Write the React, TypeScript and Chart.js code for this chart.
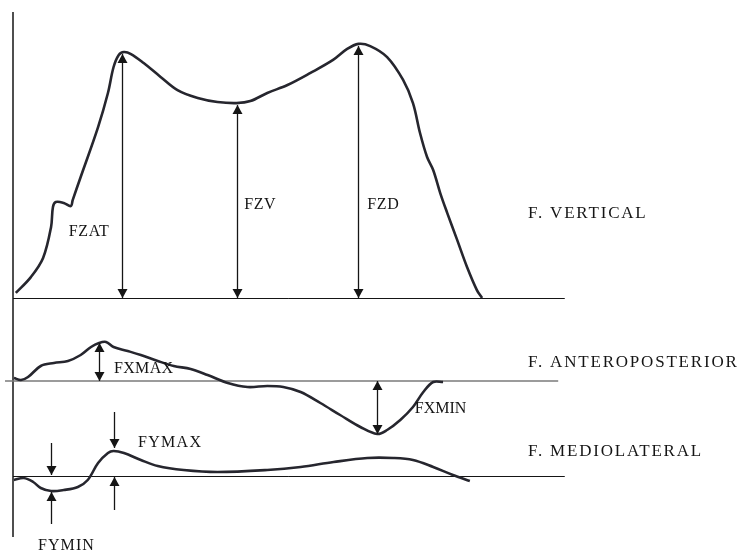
import React, { useEffect, useRef } from "react";
import { Chart, registerables } from "chart.js";

Chart.register(...registerables);

// Stance phase, % of contact time
const vertTime = [0.6, 3.8, 6.4, 8.1, 8.5, 9.1, 10.8, 12.3, 12.7, 14.4, 18.1, 20.2, 21.4, 22.5, 23.6, 25.1, 27.8, 31.4, 35.0, 39.3, 43.5, 47.6, 50.5, 54.1, 58.4, 63.3, 68.1, 71.1, 73.5, 76.0, 79.6, 83.0, 85.1, 86.6, 88.1, 89.4, 90.9, 92.4, 94.5, 96.6, 98.7, 99.8];
// Vertical ground reaction force (BW)
const vertForce = [0.023, 0.095, 0.182, 0.323, 0.414, 0.436, 0.432, 0.418, 0.445, 0.55, 0.777, 0.932, 1.05, 1.105, 1.118, 1.109, 1.068, 1.005, 0.945, 0.909, 0.891, 0.886, 0.895, 0.932, 0.968, 1.023, 1.082, 1.132, 1.155, 1.145, 1.095, 0.991, 0.886, 0.75, 0.641, 0.582, 0.477, 0.386, 0.264, 0.141, 0.036, 0.0];

const apTime = [0.2, 1.7, 3.2, 5.9, 8.7, 11.7, 14.4, 16.6, 18.3, 19.8, 21.4, 24.4, 27.2, 30.8, 34.2, 37.8, 41.4, 45.7, 49.9, 54.1, 57.5, 61.2, 65.4, 69.6, 73.9, 77.5, 79.6, 82.4, 85.1, 87.3, 89.4, 91.5];
// Anteroposterior force (BW)
const apForce = [0.015, 0.005, 0.02, 0.075, 0.09, 0.1, 0.13, 0.17, 0.19, 0.195, 0.17, 0.15, 0.13, 0.1, 0.075, 0.06, 0.03, -0.01, -0.03, -0.025, -0.03, -0.055, -0.11, -0.17, -0.23, -0.265, -0.245, -0.195, -0.13, -0.055, -0.005, -0.005];

const mlTime = [0.2, 2.3, 4.3, 5.9, 8.1, 10.8, 13.8, 15.9, 18.1, 20.2, 21.4, 23.6, 27.2, 30.8, 36.3, 43.5, 54.1, 61.2, 68.2, 75.4, 80.9, 85.1, 89.4, 93.6, 97.2];
// Mediolateral force (BW)
const mlForce = [-0.02, -0.01, -0.03, -0.06, -0.075, -0.07, -0.055, -0.02, 0.065, 0.115, 0.125, 0.115, 0.08, 0.05, 0.03, 0.02, 0.03, 0.045, 0.07, 0.09, 0.09, 0.08, 0.045, 0.005, -0.025];

// Key parameters: [time, value]
const FZAT = [23.1, 1.118];
const FZV = [47.6, 0.886];
const FZD = [73.5, 1.155];
const FXMAX = [18.3, 0.19];
const FXMIN = [77.5, -0.265];
const FYMIN = [8.1, -0.075];
const FYMAX = [21.4, 0.125];

const curveLabels = ["F. VERTICAL", "F. ANTEROPOSTERIOR", "F. MEDIOLATERAL"];

const W = 744;
const H = 554;

const toPoints = (xs: number[], ys: number[]) => xs.map((x, i) => ({ x, y: ys[i] }));

// Scale bounds so that a baseline sits at a given pixel row
const bounds = (basePx: number, pxPerUnit: number) => ({
  min: -(H - basePx) / pxPerUnit,
  max: basePx / pxPerUnit,
});

const INK = "#151515";
const FONT = '"Liberation Serif", "DejaVu Serif", serif';

function arrow(ctx: CanvasRenderingContext2D, x: number, yFrom: number, yTo: number, headFrom: boolean, headTo: boolean) {
  const hw = 5;
  const hl = 9;
  ctx.save();
  ctx.strokeStyle = INK;
  ctx.fillStyle = INK;
  ctx.lineWidth = 1.3;
  ctx.beginPath();
  ctx.moveTo(x, yFrom);
  ctx.lineTo(x, yTo);
  ctx.stroke();
  const head = (tip: number, other: number) => {
    const d = other > tip ? 1 : -1;
    ctx.beginPath();
    ctx.moveTo(x, tip);
    ctx.lineTo(x - hw, tip + d * hl);
    ctx.lineTo(x + hw, tip + d * hl);
    ctx.closePath();
    ctx.fill();
  };
  if (headFrom) head(yFrom, yTo);
  if (headTo) head(yTo, yFrom);
  ctx.restore();
}

const diagramPlugin = {
  id: "gaitDiagram",
  beforeDatasetsDraw(chart: any) {
    const { ctx } = chart;
    const sx = chart.scales.x;
    const yV = chart.scales.yV;
    const yA = chart.scales.yAP;
    const yM = chart.scales.yML;
    ctx.save();
    // time axis origin line
    ctx.strokeStyle = INK;
    ctx.lineWidth = 1.5;
    ctx.beginPath();
    ctx.moveTo(sx.getPixelForValue(0), yV.getPixelForValue(1.3));
    ctx.lineTo(sx.getPixelForValue(0), yM.getPixelForValue(-0.305));
    ctx.stroke();
    // zero lines
    ctx.lineWidth = 1;
    ctx.beginPath();
    ctx.moveTo(sx.getPixelForValue(0), Math.round(yV.getPixelForValue(0)) + 0.5);
    ctx.lineTo(sx.getPixelForValue(117.4), Math.round(yV.getPixelForValue(0)) + 0.5);
    ctx.stroke();
    ctx.beginPath();
    ctx.moveTo(sx.getPixelForValue(0), Math.round(yM.getPixelForValue(0)) + 0.5);
    ctx.lineTo(sx.getPixelForValue(117.4), Math.round(yM.getPixelForValue(0)) + 0.5);
    ctx.stroke();
    ctx.strokeStyle = "#7a7a7a";
    ctx.lineWidth = 1.6;
    ctx.beginPath();
    ctx.moveTo(sx.getPixelForValue(-1.7), yA.getPixelForValue(0));
    ctx.lineTo(sx.getPixelForValue(116), yA.getPixelForValue(0));
    ctx.stroke();
    ctx.restore();
  },
  afterDatasetsDraw(chart: any) {
    const { ctx } = chart;
    const sx = chart.scales.x;
    const yV = chart.scales.yV;
    const yA = chart.scales.yAP;
    const yM = chart.scales.yML;
    const X = (t: number) => Math.round(sx.getPixelForValue(t)) + 0.5;

    // vertical force parameters
    for (const p of [FZAT, FZV, FZD]) {
      arrow(ctx, X(p[0]), yV.getPixelForValue(0), yV.getPixelForValue(p[1]) + 2, true, true);
    }
    // anteroposterior parameters
    arrow(ctx, X(FXMAX[0]), yA.getPixelForValue(0), yA.getPixelForValue(FXMAX[1]), true, true);
    arrow(ctx, X(FXMIN[0]), yA.getPixelForValue(0), yA.getPixelForValue(FXMIN[1]), true, true);
    // mediolateral parameters
    arrow(ctx, X(FYMIN[0]), yM.getPixelForValue(0.165), yM.getPixelForValue(0) - 1, false, true);
    arrow(ctx, X(FYMIN[0]), yM.getPixelForValue(-0.24), yM.getPixelForValue(FYMIN[1]) + 1, false, true);
    arrow(ctx, X(FYMAX[0]), yM.getPixelForValue(0.32), yM.getPixelForValue(FYMAX[1]) - 3, false, true);
    arrow(ctx, X(FYMAX[0]), yM.getPixelForValue(-0.17), yM.getPixelForValue(0) + 1, false, true);

    const text = (s: string, t: number, py: number, size: number, spacing: number, align: CanvasTextAlign) => {
      ctx.save();
      ctx.fillStyle = INK;
      ctx.font = `${size}px ${FONT}`;
      (ctx as any).letterSpacing = `${spacing}px`;
      ctx.textAlign = align;
      ctx.textBaseline = "middle";
      ctx.fillText(s, sx.getPixelForValue(t), py);
      ctx.restore();
    };

    text("FZAT", 16.2, yV.getPixelForValue(0.3), 16, 0.6, "center");
    text("FZV", 52.6, yV.getPixelForValue(0.423), 16, 0.6, "center");
    text("FZD", 78.8, yV.getPixelForValue(0.423), 16, 0.6, "center");
    text("FXMAX", 21.5, yA.getPixelForValue(0.06), 16, 0.3, "left");
    text("FXMIN", 85.5, yA.getPixelForValue(-0.14), 16, 0, "left");
    text("FYMAX", 26.6, yM.getPixelForValue(0.165), 16, 1.3, "left");
    text("FYMIN", 5.3, yM.getPixelForValue(-0.35), 16, 1.1, "left");

    text(curveLabels[0], 109.6, yV.getPixelForValue(0.386), 17, 1.8, "left");
    text(curveLabels[1], 109.6, yA.getPixelForValue(0.09), 17, 1.8, "left");
    text(curveLabels[2], 109.6, yM.getPixelForValue(0.12), 17, 1.8, "left");
  },
};

export default function App() {
  const canvasRef = useRef<HTMLCanvasElement | null>(null);

  useEffect(() => {
    const canvas = canvasRef.current;
    if (!canvas) return;
    const curve = {
      borderColor: "#26262e",
      borderWidth: 2.6,
      pointRadius: 0,
      fill: false,
      tension: 0.35,
    };
    const chart = new Chart(canvas, {
      type: "line",
      data: {
        datasets: [
          { ...curve, label: curveLabels[0], data: toPoints(vertTime, vertForce), yAxisID: "yV" },
          { ...curve, label: curveLabels[1], data: toPoints(apTime, apForce), yAxisID: "yAP" },
          { ...curve, label: curveLabels[2], data: toPoints(mlTime, mlForce), yAxisID: "yML" },
        ],
      },
      options: {
        animation: false,
        responsive: false,
        maintainAspectRatio: false,
        devicePixelRatio: 1,
        layout: { padding: 0 },
        events: [],
        plugins: { legend: { display: false }, tooltip: { enabled: false } },
        scales: {
          x: { type: "linear", display: false, min: -13 / 4.7, max: (W - 13) / 4.7 },
          yV: { type: "linear", display: false, ...bounds(298, 220) },
          yAP: { type: "linear", display: false, ...bounds(381, 200) },
          yML: { type: "linear", display: false, ...bounds(476, 200) },
        },
      },
      plugins: [diagramPlugin],
    });
    return () => chart.destroy();
  }, []);

  return (
    <div style={{ position: "absolute", left: 0, top: 0, width: W, height: H, background: "#fff" }}>
      <canvas ref={canvasRef} width={W} height={H} style={{ display: "block", width: W, height: H }} />
    </div>
  );
}
